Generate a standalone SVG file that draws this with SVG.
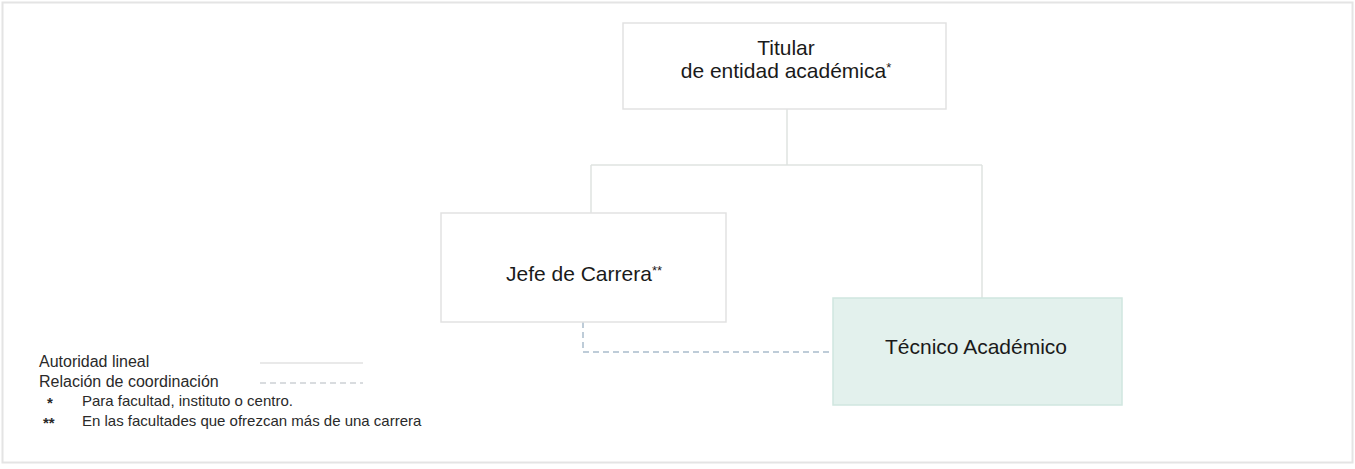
<svg xmlns="http://www.w3.org/2000/svg" width="1355" height="469" viewBox="0 0 1355 469">
  <style>
    .box { fill: #ffffff; stroke: #e2e2e2; stroke-width: 1.5; }
    .tec { fill: #e3f1ed; stroke: #d0e6df; stroke-width: 1.5; }
    .lbl { font-family: "Liberation Sans", Arial, sans-serif; font-size: 21px; fill: #1a1a1a; text-anchor: middle; }
    .sup { font-size: 13px; }
    .leg { font-family: "Liberation Sans", Arial, sans-serif; font-size: 16px; fill: #2a2a2a; }
    .note { font-family: "Liberation Sans", Arial, sans-serif; font-size: 15px; fill: #2a2a2a; }
    .solid { fill: none; stroke: #dfe3e1; stroke-width: 1.5; }
    .dash { fill: none; stroke: #a9bccb; stroke-width: 1.5; stroke-dasharray: 6 4; }
  </style>
  <rect x="0" y="0" width="1355" height="469" fill="#ffffff"/>
  <rect x="2.5" y="2.5" width="1350" height="460" fill="none" stroke="#e4e4e4" stroke-width="2"/>

  <g id="connectors">
    <path class="solid" d="M787 109 V165 M591 165 H982 M591 165 V213 M982 165 V298"/>
    <path class="dash" d="M583 322 V352 H833"/>
  </g>

  <g id="titular">
    <rect class="box" x="623" y="23" width="323" height="86"/>
    <text class="lbl" x="786" y="55">Titular</text>
    <text class="lbl" x="786" y="78">de entidad académica<tspan class="sup" dy="-6">*</tspan></text>
  </g>

  <g id="jefe">
    <rect class="box" x="441" y="213" width="285" height="109"/>
    <text class="lbl" x="584" y="281">Jefe de Carrera<tspan class="sup" dy="-6">**</tspan></text>
  </g>

  <g id="tecnico">
    <rect class="tec" x="833" y="298" width="289" height="107"/>
    <text class="lbl" x="976" y="354">Técnico Académico</text>
  </g>

  <g id="legend">
    <text class="leg" x="39" y="367">Autoridad lineal</text>
    <text class="leg" x="39" y="387">Relación de coordinación</text>
    <line x1="260" y1="363" x2="363" y2="363" stroke="#e2e2e2" stroke-width="1.5"/>
    <line x1="260" y1="383" x2="363" y2="383" stroke="#cdd1d5" stroke-width="1.5" stroke-dasharray="6 4"/>
    <text class="note" x="47" y="408" font-weight="bold">*</text>
    <text class="note" x="82" y="406">Para facultad, instituto o centro.</text>
    <text class="note" x="43" y="428" font-weight="bold">**</text>
    <text class="note" x="82" y="426">En las facultades que ofrezcan más de una carrera</text>
  </g>
</svg>
